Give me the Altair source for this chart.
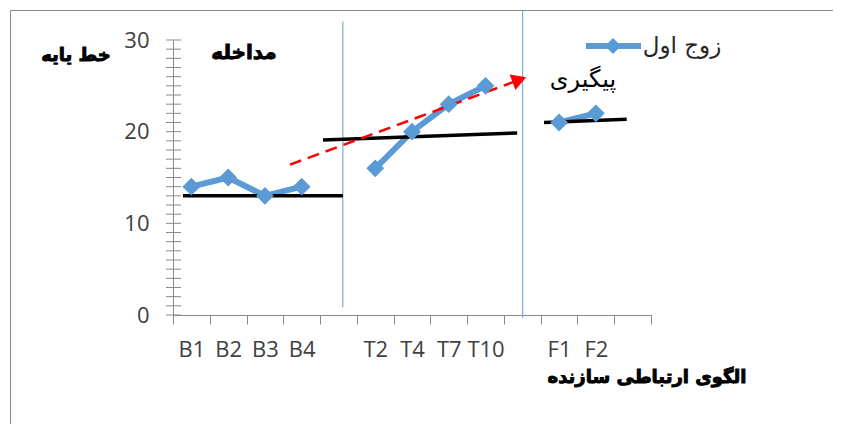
import altair as alt
import pandas as pd

# ---- data ----
categories = ["B1", "B2", "B3", "B4", "", "T2", "T4", "T7", "T10", "", "F1", "F2", ""]
values = [14, 15, 13, 14, None, 16, 20, 23, 25, None, 21, 22, None]
phases = ["B", "B", "B", "B", None, "T", "T", "T", "T", None, "F", "F", None]

# phase level lines (x in category units, y in score units)
level_x1 = [0.27, 4.08, 10.09]
level_x2 = [4.62, 9.36, 12.34]
level_y1 = [13, 19.1, 21.0]
level_y2 = [13, 19.85, 21.35]

# trend arrow
trend_x1, trend_y1 = 3.18, 16.4
trend_x2, trend_y2 = 9.35, 25.55
head_x, head_y = 9.42, 25.66

# phase separators
sep_x = [4.62, 9.51]
sep_y1 = [0.84, -0.33]
sep_y2 = [32.0, 33.2]

W, H = 478, 275
BLUE = "#5B9BD5"
GRAY = "#898989"

pts = pd.DataFrame({
    "x": [i + 0.5 for i in range(len(categories))],
    "cat": categories,
    "v": values,
    "phase": phases,
}).dropna()

xs = alt.Scale(domain=[0, 13], nice=False, zero=False)
ys = alt.Scale(domain=[0, 30], nice=False, zero=False)

label_js = "[" + ",".join("'" + c + "'" for c in categories) + ",'']"

XAX = alt.Axis(
    values=list(range(14)), labelExpr=label_js + "[datum.value]",
    labelOffset=W / 26, tickSize=9, tickColor=GRAY, domainColor=GRAY,
    labelFont="Open Sans", labelFontSize=22, labelColor="#404040",
    labelPadding=15, grid=False, title=None, labelFlush=False,
    labelOverlap=False, labelBound=False)
YAX = alt.Axis(
    values=[0, 10, 20, 30], ticks=False, domainColor=GRAY,
    labelFont="Open Sans", labelFontSize=22, labelColor="#404040",
    labelPadding=24, grid=False, title=None)


def qx(f):
    return alt.X(f, type="quantitative", scale=xs, axis=XAX)


def qy(f):
    return alt.Y(f, type="quantitative", scale=ys, axis=YAX)


# border
border = alt.Chart(pd.DataFrame({"a": [0]})).mark_rect(
    fill=None, stroke=GRAY, strokeWidth=1).encode(
    x=alt.value(-162.5), x2=alt.value(W + 400), y=alt.value(-29.5), y2=alt.value(H + 400))

# y ticks crossing axis
yt = alt.Chart(pd.DataFrame({"t": list(range(0, 31))})).mark_rule(
    color=GRAY, strokeWidth=1).encode(
    y=qy("t"), x=alt.value(-7), x2=alt.value(8))

seps = alt.Chart(pd.DataFrame({"x": sep_x, "y1": sep_y1, "y2": sep_y2})).mark_rule(
    color=BLUE, strokeWidth=1).encode(
    x=qx("x"), y=qy("y1"), y2="y2:Q")

levels = alt.Chart(pd.DataFrame({"x1": level_x1, "x2": level_x2,
                                  "y1": level_y1, "y2": level_y2})).mark_rule(
    color="black", strokeWidth=3.5).encode(
    x=qx("x1"), x2="x2:Q", y=qy("y1"), y2="y2:Q")

trend = alt.Chart(pd.DataFrame({"x1": [trend_x1], "x2": [trend_x2],
                                 "y1": [trend_y1], "y2": [trend_y2]})).mark_rule(
    color="#FF0000", strokeWidth=2.5, strokeDash=[12, 7]).encode(
    x=qx("x1"), x2="x2:Q", y=qy("y1"), y2="y2:Q")

head = alt.Chart(pd.DataFrame({"x": [head_x], "y": [head_y]})).mark_point(
    shape="triangle-right", filled=True, color="#FF0000", size=280, angle=340, opacity=1).encode(
    x=qx("x"), y=qy("y"))

line = alt.Chart(pts).mark_line(color=BLUE, strokeWidth=6).encode(
    x=qx("x"), y=qy("v"), detail="phase:N")
marks = alt.Chart(pts).mark_point(shape="diamond", filled=True, color=BLUE,
                                  size=320, opacity=1).encode(x=qx("x"), y=qy("v"))

# legend
leg_line = alt.Chart(pd.DataFrame({"a": [0]})).mark_rule(color=BLUE, strokeWidth=6).encode(
    x=alt.value(413), x2=alt.value(468), y=alt.value(6))
leg_pt = alt.Chart(pd.DataFrame({"a": [0]})).mark_point(
    shape="diamond", filled=True, color=BLUE, size=260, opacity=1).encode(
    x=alt.value(440), y=alt.value(6))


def txt(s, px, py, size, bold, color="black"):
    kw = dict(stroke=color, strokeWidth=0.9) if bold else {}
    return alt.Chart(pd.DataFrame({"t": [s]})).mark_text(
        font="DejaVu Sans", fontSize=size, fontWeight="bold" if bold else "normal",
        color=color, align="center", baseline="middle", **kw).encode(
        text="t:N", x=alt.value(px), y=alt.value(py))


texts = [
    txt("خط یایه", 76 - 173, 56 - 40, 18, True),
    txt("مداخله", 244 - 173, 53 - 40, 20, True),
    txt("پیگیری", 583 - 173, 80 - 40, 24, False),
    txt("زوج اول", 682 - 173, 46 - 40, 23, False, "#262626"),
    txt("الگوی ارتباطی سازنده", 647 - 173, 378 - 40, 18, True),
]

chart = alt.layer(line, border, yt, seps, levels, trend, head, marks, leg_line, leg_pt, *texts).properties(
    width=W, height=H,
    background="white",
    autosize=alt.AutoSizeParams(type="none"),
    padding={"left": 165, "top": 32, "right": 182, "bottom": 109},
).configure_view(strokeWidth=0, stroke="transparent")

chart.save("out.html", embed_options={"renderer": "svg", "actions": False})
